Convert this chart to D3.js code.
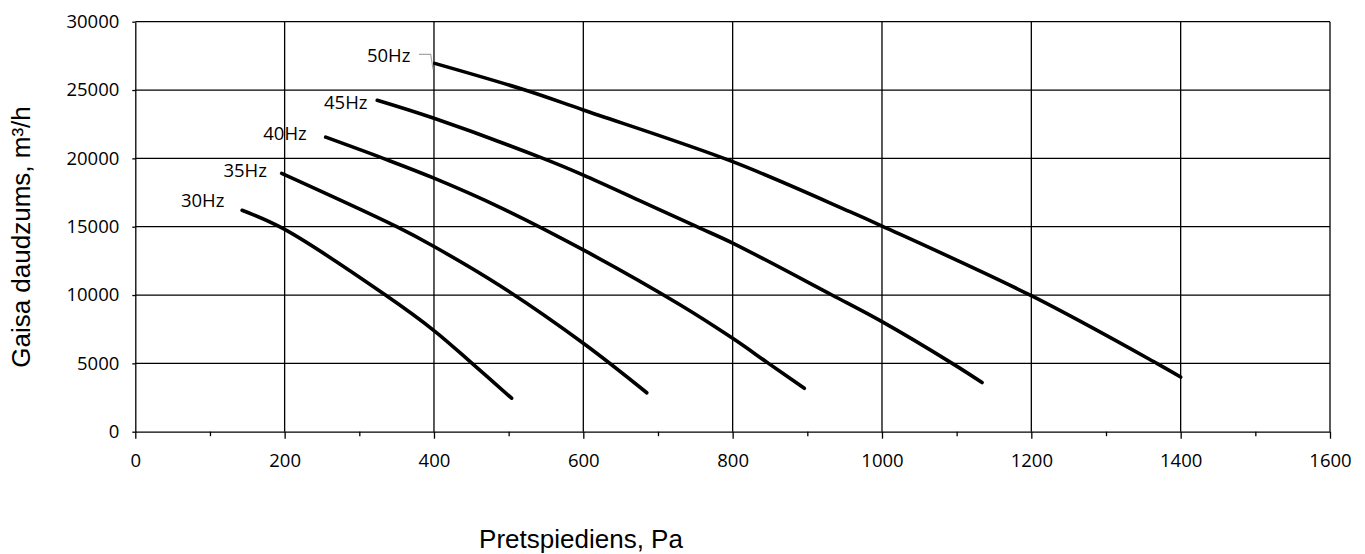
<!DOCTYPE html>
<html lang="lv">
<head>
<meta charset="UTF-8">
<title>Gaisa daudzums / pretspiediens</title>
<script src="https://d3js.org/d3.v7.min.js"></script>
<style>
  body { margin: 0; background: #fff; }
  svg { display: block; }
</style>
</head>
<body>

<div id="chart"></div>

<script>

// fan curves: [pressure Pa, air flow m3/h]
const freqLabels = ['30Hz', '35Hz', '40Hz', '45Hz', '50Hz'];
const curve30 = [[143,16200],[200,14800],[335,10000],[400,7400],[451,5000],[504,2450]];
const curve35 = [[196,18900],[350,15000],[400,13550],[489,10660],[600,6470],[685,2850]];
const curve40 = [[255,21550],[332,20000],[400,18550],[489,16400],[600,13300],[730,9270],[800,6830],[848,5000],[896,3175]];
const curve45 = [[324,24250],[400,22930],[546,20000],[600,18780],[674,16950],[752,15000],[800,13800],[933,10000],[1000,8050],[1094,5000],[1134,3600]];
const curve50 = [[401,26950],[522,25000],[600,23540],[800,19760],[957,16100],[1000,15050],[1200,9950],[1368,5000],[1400,4000]];
const curves = [curve30, curve35, curve40, curve45, curve50];

// axis ticks
const xTicks = [0, 200, 400, 600, 800, 1000, 1200, 1400, 1600];
const yTicks = [0, 5000, 10000, 15000, 20000, 25000, 30000];

const xTitle = 'Pretspiediens, Pa';
const yTitle = 'Gaisa daudzums, m³/h';

// where each frequency label sits, relative to the first point of its curve (px)
const labelOffsets = [[-17.7, -10], [-14.7, -3.3], [-19, -3.4], [-9.7, 1.7], [-24.3, -8.3]];

const width = 1365;
const height = 554;
const margin = {top: 21.7, right: 35, bottom: 122.3, left: 135.3};

const tickFont = '"Open Sans", "Noto Sans", sans-serif';
const titleFont = '"Liberation Sans", Arial, sans-serif';

const svg = d3.select('#chart').append('svg')
    .attr('width', width)
    .attr('height', height);

const x = d3.scaleLinear()
    .domain([0, 1600])
    .range([margin.left, width - margin.right]);

const y = d3.scaleLinear()
    .domain([0, 30000])
    .range([height - margin.bottom, margin.top]);

// grid
const grid = svg.append('g')
    .attr('stroke', '#000')
    .attr('stroke-width', 1.3);

grid.selectAll('line.v')
    .data(xTicks.slice(1))
    .join('line')
    .attr('class', 'v')
    .attr('x1', d => x(d)).attr('x2', d => x(d))
    .attr('y1', y(0)).attr('y2', y(30000));

grid.selectAll('line.h')
    .data(yTicks.slice(1))
    .join('line')
    .attr('class', 'h')
    .attr('x1', x(0)).attr('x2', x(1600))
    .attr('y1', d => y(d)).attr('y2', d => y(d));

// axes
svg.append('g')
    .attr('transform', `translate(0,${y(0)})`)
    .call(d3.axisBottom(x).tickValues(xTicks).tickFormat(d3.format('d'))
        .tickSize(7).tickSizeOuter(0).tickPadding(15));

// minor ticks between the labelled ones
svg.append('g')
    .attr('transform', `translate(0,${y(0)})`)
    .call(d3.axisBottom(x).tickValues(d3.range(100, 1600, 200)).tickSize(4.5).tickSizeOuter(0).tickFormat(''))
    .call(g => g.select('.domain').remove());

svg.append('g')
    .attr('transform', `translate(${x(0)},0)`)
    .call(d3.axisLeft(y).tickValues(yTicks).tickFormat(d3.format('d'))
        .tickSize(3).tickSizeOuter(0).tickPadding(13));

svg.selectAll('.tick line, .domain')
    .attr('stroke', '#000')
    .attr('stroke-width', 1.3);

svg.selectAll('.tick text')
    .attr('fill', '#000')
    .style('font-family', tickFont)
    .style('font-size', '18.5px');

// curves
const line = d3.line()
    .x(d => x(d[0]))
    .y(d => y(d[1]))
    .curve(d3.curveCatmullRom.alpha(0.5));

svg.append('g')
    .selectAll('path')
    .data(curves)
    .join('path')
    .attr('d', line)
    .attr('fill', 'none')
    .attr('stroke', '#000')
    .attr('stroke-width', 3.6)
    .attr('stroke-linecap', 'round')
    .attr('stroke-linejoin', 'round');

// frequency labels
svg.append('g')
    .selectAll('text')
    .data(curves)
    .join('text')
    .attr('x', (d, i) => x(d[0][0]) + labelOffsets[i][0])
    .attr('y', (d, i) => y(d[0][1]) + labelOffsets[i][1])
    .attr('dy', '0.36em')
    .attr('text-anchor', 'end')
    .style('font-family', tickFont)
    .style('font-size', '18.5px')
    .attr('fill', '#000')
    .text((d, i) => freqLabels[i]);

// leader line of the 50Hz label
const p50 = [x(curve50[0][0]), y(curve50[0][1])];
svg.append('path')
    .attr('d', d3.line()([[p50[0] - 15.7, p50[1] - 9], [p50[0] - 4, p50[1] - 9], [p50[0] - 1.7, p50[1] + 6]]))
    .attr('fill', 'none')
    .attr('stroke', '#a6a6a6')
    .attr('stroke-width', 1.1);

// axis titles
svg.append('text')
    .attr('x', 581)
    .attr('y', 548)
    .attr('text-anchor', 'middle')
    .style('font-family', titleFont)
    .style('font-size', '26px')
    .attr('fill', '#000')
    .text(xTitle);

svg.append('text')
    .attr('transform', 'translate(30,237) rotate(-90)')
    .attr('text-anchor', 'middle')
    .style('font-family', titleFont)
    .style('font-size', '26px')
    .attr('fill', '#000')
    .text(yTitle);

</script>
</body>
</html>
